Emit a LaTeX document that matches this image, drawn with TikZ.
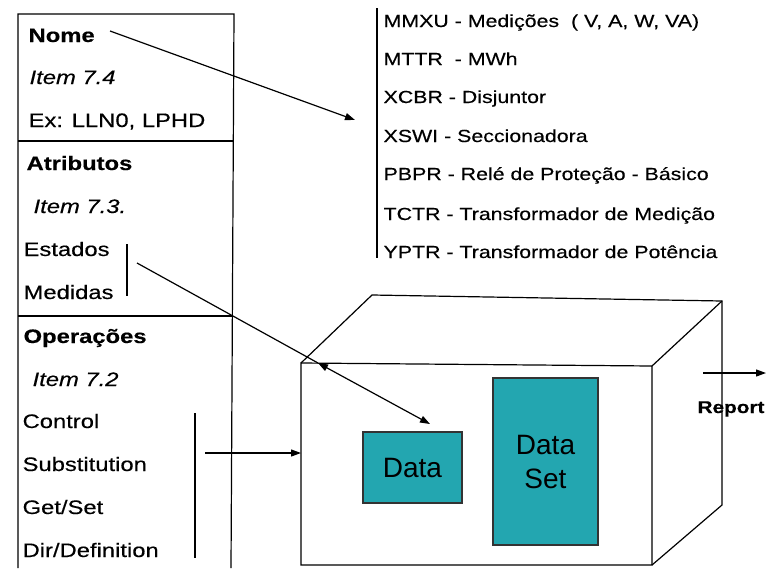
\documentclass[tikz,border=0pt]{standalone}
\usepackage{fontspec}
\setmainfont{Liberation Sans}[FakeStretch=1.22,FakeBold=0.35]
\newfontfamily\plainfont{Liberation Sans}
\usetikzlibrary{arrows.meta}
\definecolor{teal1}{RGB}{35,166,176}
\begin{document}
\begin{tikzpicture}[x=1pt,y=-1pt,line width=1.2pt,
  txt/.style={anchor=base west,inner sep=0pt,font=\fontsize{19.5}{22}\selectfont},
  hdr/.style={txt,font=\fontsize{19.5}{22}\selectfont\bfseries},
  itm/.style={txt,font=\fontsize{19.5}{22}\selectfont\itshape},
  lst/.style={txt,font=\fontsize{17.5}{22}\selectfont},
  blk/.style={draw=black!80,fill=teal1,line width=1.2pt,inner sep=0pt,font=\plainfont\fontsize{28}{36}\selectfont,align=center},
  arr/.style={-{Triangle[length=10pt,width=7pt]}},
  darr/.style={{Triangle[length=10pt,width=7pt]}-{Triangle[length=10pt,width=7pt]}}]
\useasboundingbox (0,0) rectangle (766,568);
\fill[white] (0,0) rectangle (766,568);
% left class box
\draw (18,568) -- (18,14) -- (234,14) -- (231,568);
\draw (18,141) -- (233,141);
\draw (18,316) -- (232,316);
\node[hdr] (nome) at (28,42) {Nome};
\node[itm] (i74) at (29,84) {Item 7.4};
\node[txt] (ex) at (28,127) {Ex: LLN0, LPHD};
\node[hdr] (atr) at (26,170) {Atributos};
\node[itm] (i73) at (33,213) {Item 7.3.};
\node[txt] (est) at (23,256) {Estados};
\node[txt] (med) at (23,299) {Medidas};
\node[hdr] (ope) at (23,343) {Operações};
\node[itm] (i72) at (32,386) {Item 7.2};
\node[txt] (ctl) at (22,428) {Control};
\node[txt] (sub) at (22,471) {Substitution};
\node[txt] (gs) at (22,514) {Get/Set};
\node[txt] (dir) at (22,557) {Dir/Definition};
% right list
\draw (377,8) -- (377,258);
\node[lst] (l1) at (383,27) {MMXU - Medições \ ( V, A, W, VA)};
\node[lst] (l2) at (383,65) {MTTR \ - MWh};
\node[lst] (l3) at (383,103) {XCBR - Disjuntor};
\node[lst] (l4) at (383,142) {XSWI - Seccionadora};
\node[lst] (l5) at (383,180) {PBPR - Relé de Proteção - Básico};
\node[lst] (l6) at (383,220) {TCTR - Transformador de Medição};
\node[lst] (l7) at (383,258) {YPTR - Transformador de Potência};
% 3D box
\coordinate (ftl) at (301,363);
\coordinate (ftr) at (652,366);
\coordinate (fbr) at (652,565);
\coordinate (fbl) at (301,565);
\coordinate (btl) at (372,295);
\coordinate (btr) at (722,301);
\coordinate (bbr) at (722,505);
\draw (ftl) -- (ftr) -- (fbr) -- (fbl) -- cycle;
\draw (ftl) -- (btl) -- (btr) -- (bbr) -- (fbr);
\draw (ftr) -- (btr);
\node[blk,minimum width=99pt,minimum height=71pt] (data) at (412.5,467.5) {Data};
\node[blk,minimum width=105pt,minimum height=167pt] (dset) at (545.5,461.5) {Data\\[-2pt]Set};
% report
\coordinate (rs) at (703,373);
\coordinate (re) at (766,373);
\draw[arr] (rs) -- (re);
\node[txt,font=\fontsize{17}{22}\selectfont\bfseries] (rep) at (697,413) {Report};
% connectors
\coordinate (n0) at (110,31);
\coordinate (n1) at (355,120);
\draw[arr] (n0) -- (n1);
\coordinate (e1) at (127,244);
\coordinate (e2) at (127,296);
\draw (e1) -- (e2);
\coordinate (e3) at (137,263);
\coordinate (e4) at (318,363);
\coordinate (e5) at (430,424);
\draw (e3) -- (e4);
\draw[darr] (e4) -- (e5);
\coordinate (o1) at (195,413);
\coordinate (o2) at (195,558);
\draw (o1) -- (o2);
\coordinate (o3) at (205,453);
\draw[arr] (o3) -- (ftl |- o3);
\end{tikzpicture}
\end{document}
